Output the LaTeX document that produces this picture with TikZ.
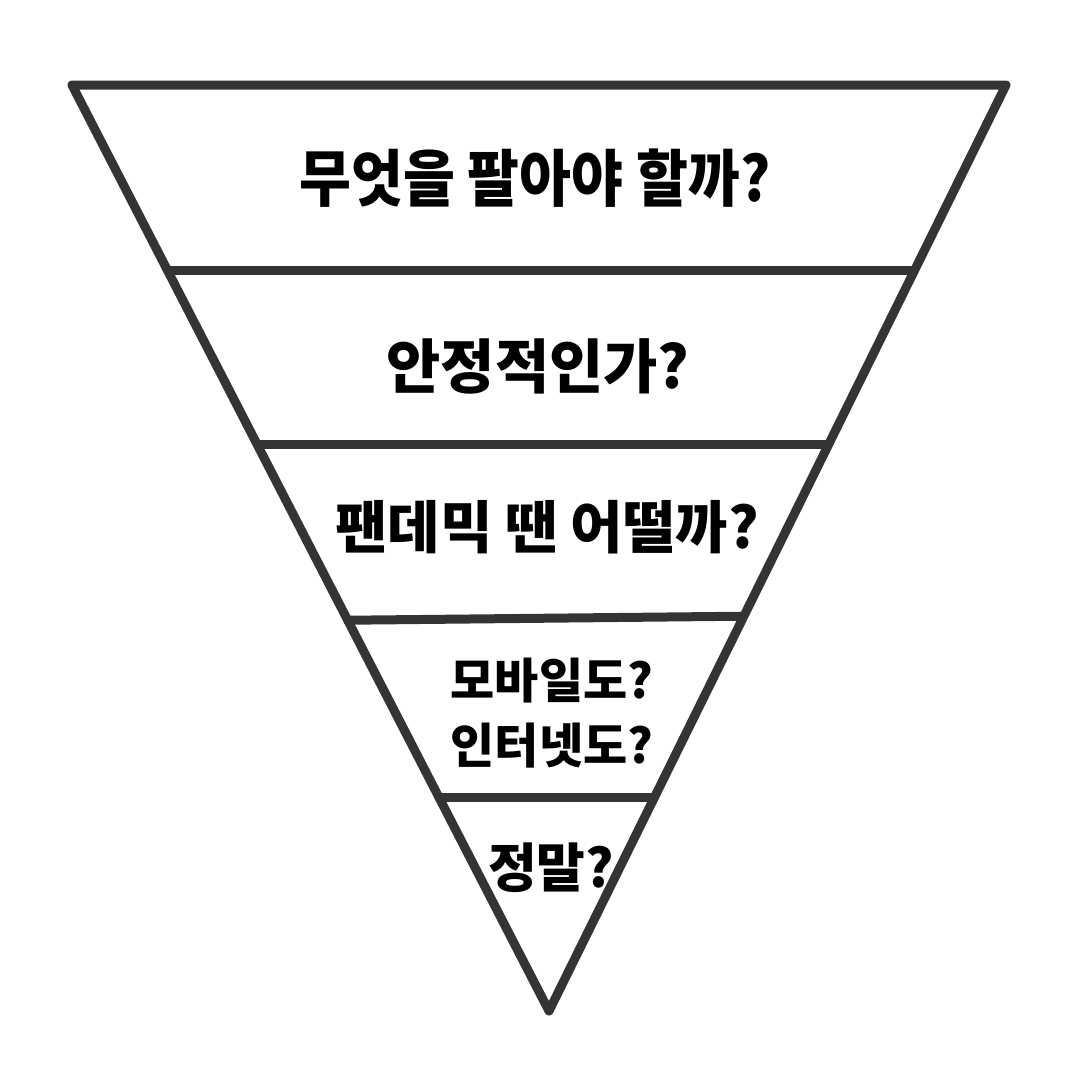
\documentclass[tikz,border=0pt]{standalone}
\usepackage{fontspec}
\newfontfamily\kr{Noto Sans CJK KR}[BoldFont={* Black}]
\usetikzlibrary{calc}
\definecolor{pencil}{RGB}{52,52,52}
\tikzset{
  edge/.style={draw=pencil, line width=9pt, line cap=round, line join=round},
  label/.style={font=\kr\bfseries, text=black, inner sep=0pt, align=center},
}
\begin{document}
\begin{tikzpicture}[x=1pt,y=-1pt]
\useasboundingbox (0,0) rectangle (1080,1080);
\coordinate (L) at (72,85);
\coordinate (R) at (1006,85);
\coordinate (A) at (549,1011);
\draw[edge] (L) -- (R) -- (A) -- cycle;
\foreach \t/\n in {0.2/1,0.388/2,0.578/3,0.769/4}{
  \coordinate (l\n) at ($(L)!\t!(A)$);
  \coordinate (r\n) at ($(R)!\t!(A)$);
}
\draw[edge] (l1) -- (r1);
\draw[edge] (l2) -- (r2);
\draw[edge] (l3) -- ($(r3)+(0,-4)$);
\draw[edge] (l4) -- (r4);
\node[label, xscale=0.91, font=\kr\bfseries\fontsize{62}{62}\selectfont] (t1) at (535,178) {무엇을 팔아야 할까?};
\node[label, font=\kr\bfseries\fontsize{59}{59}\selectfont] (t2) at (538,366) {안정적인가?};
\node[label, font=\kr\bfseries\fontsize{57}{57}\selectfont] (t3) at (547,527) {팬데믹 땐 어떨까?};
\node[label, font=\kr\bfseries\fontsize{48}{65}\selectfont] (t4) at (552,713) {모바일도?\\인터넷도?};
\node[label, font=\kr\bfseries\fontsize{53}{53}\selectfont] (t5) at (551,868) {정말?};
\end{tikzpicture}
\end{document}
